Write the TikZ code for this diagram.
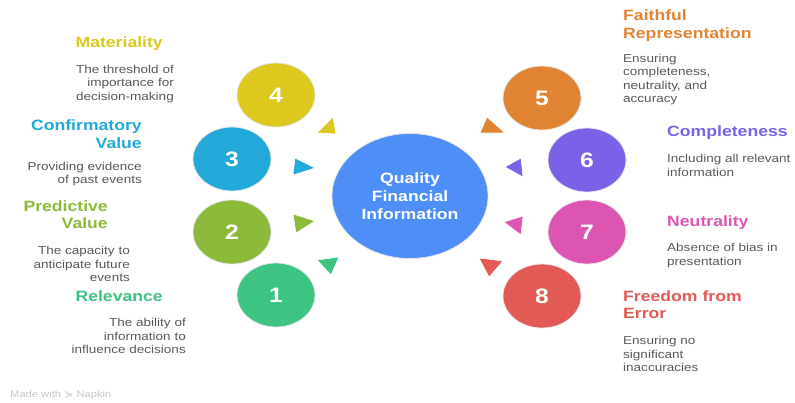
\documentclass[tikz,border=0pt]{standalone}
\usepackage{fontspec}
\setmainfont[FakeStretch=1.18]{Liberation Sans}
\newfontfamily\symfont[FakeStretch=1.18]{DejaVu Sans}
\usetikzlibrary{shapes.geometric}

\definecolor{cfour}{HTML}{DDC81E}
\definecolor{cthree}{HTML}{22A9D9}
\definecolor{ctwo}{HTML}{8DB93A}
\definecolor{cone}{HTML}{3DC482}
\definecolor{cfive}{HTML}{E08434}
\definecolor{csix}{HTML}{7B61E8}
\definecolor{cseven}{HTML}{DC55B0}
\definecolor{ceight}{HTML}{E25A55}
\definecolor{chub}{HTML}{4D8EF7}
\definecolor{ctext}{HTML}{595959}

\tikzset{
  disc/.style={ellipse, fill=#1, draw=gray!20, line width=0.8bp,
    minimum width=78bp, minimum height=64bp, inner sep=0pt,
    text=white, font=\fontsize{21}{24}\selectfont\bfseries},
  hub/.style={ellipse, fill=chub, draw=gray!20, line width=0.8bp,
    minimum width=156bp, minimum height=125bp, inner sep=0pt, align=center,
    text=white, font=\fontsize{15}{18}\selectfont\bfseries},
  head/.style={text=#1, inner sep=0pt, font=\fontsize{15}{17.5}\selectfont\bfseries},
  note/.style={text=ctext, inner sep=0pt, font=\fontsize{11.5}{13.6}\selectfont},
  tri/.style={fill=#1, draw=white, line width=0.6bp, line join=round}
}

\begin{document}
\begin{tikzpicture}[x=1bp, y=-1bp]
    \useasboundingbox (0,0) rectangle (795,402);

    % centre
    \node[hub]          (Q) at (410,196) {Quality\\Financial\\Information};

    % left circles
    \node[disc=cfour]   (D4) at (276,95)  {4};
    \node[disc=cthree]  (D3) at (232,159) {3};
    \node[disc=ctwo]    (D2) at (232,232) {2};
    \node[disc=cone]    (D1) at (276,295) {1};
    % right circles
    \node[disc=cfive]   (D5) at (542,98)  {5};
    \node[disc=csix]    (D6) at (587,160) {6};
    \node[disc=cseven]  (D7) at (587,232) {7};
    \node[disc=ceight]  (D8) at (542,296) {8};

    % pointers
    \fill[tri=cfour]  (317,133) -- (333,117) -- (336,134) -- cycle;
    \fill[tri=cthree] (295,158) -- (315,168) -- (293,175) -- cycle;
    \fill[tri=ctwo]   (293,214) -- (315,221) -- (296,233) -- cycle;
    \fill[tri=cone]   (317,260) -- (339,257) -- (331,275) -- cycle;
    \fill[tri=cfive]  (487,117) -- (505,133) -- (480,133) -- cycle;
    \fill[tri=csix]   (505,167) -- (521,158) -- (523,177) -- cycle;
    \fill[tri=cseven] (504,222) -- (523,216) -- (521,235) -- cycle;
    \fill[tri=ceight] (479,258) -- (503,261) -- (489,277) -- cycle;

    % left labels
    \node[head=cfour, anchor=east]              (H4) at (163,44)    {Materiality};
    \node[note, anchor=east, align=right]       (N4) at (174,84)    {The threshold of\\importance for\\decision-making};
    \node[head=cthree, anchor=east, align=right](H3) at (142,134)   {Confirmatory\\Value};
    \node[note, anchor=east, align=right]       (N3) at (142,174)   {Providing evidence\\of past events};
    \node[head=ctwo, anchor=east, align=right]  (H2) at (108,214.5) {Predictive\\Value};
    \node[note, anchor=east, align=right]       (N2) at (130,264)   {The capacity to\\anticipate future\\events};
    \node[head=cone, anchor=east]               (H1) at (163,296)   {Relevance};
    \node[note, anchor=east, align=right]       (N1) at (186,336)   {The ability of\\information to\\influence decisions};

    % right labels
    \node[head=cfive, anchor=west, align=left]  (H5) at (623,25.5)  {Faithful\\Representation};
    \node[note, anchor=west, align=left]        (N5) at (623,79.5)  {Ensuring\\completeness,\\neutrality, and\\accuracy};
    \node[head=csix, anchor=west]               (H6) at (667,133)   {Completeness};
    \node[note, anchor=west, align=left]        (N6) at (667,165.5) {Including all relevant\\information};
    \node[head=cseven, anchor=west]             (H7) at (667,223)   {Neutrality};
    \node[note, anchor=west, align=left]        (N7) at (667,255.5) {Absence of bias in\\presentation};
    \node[head=ceight, anchor=west, align=left] (H8) at (623,304.5) {Freedom from\\Error};
    \node[note, anchor=west, align=left]        (N8) at (623,354)   {Ensuring no\\significant\\inaccuracies};

    \node[anchor=west, inner sep=0pt, text=gray!45, font=\fontsize{9.5}{10}\selectfont]
      (mark) at (10,395.5) {Made with {\symfont ⋟} Napkin};
\end{tikzpicture}
\end{document}
